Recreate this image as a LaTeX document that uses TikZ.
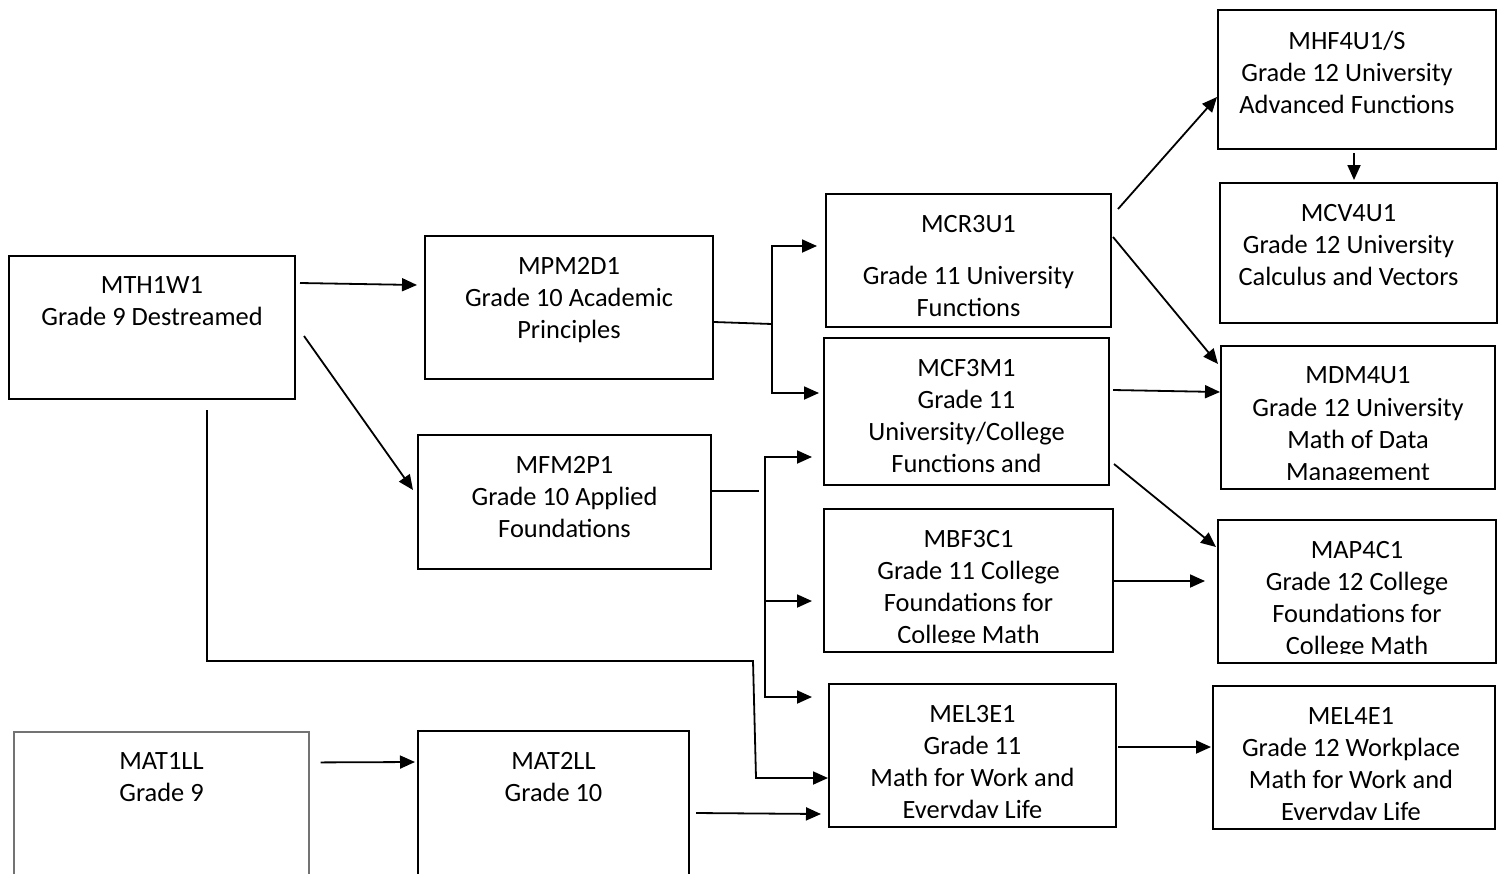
\documentclass[tikz,border=0pt]{standalone}
\usepackage{fontspec}
\setmainfont{Carlito}
\usetikzlibrary{arrows.meta}

\tikzset{
  box/.style={draw, line width=1pt, inner sep=0pt},
  thinbox/.style={draw=black!55, line width=0.6pt, inner sep=0pt},
  txt/.style={draw=none, minimum width=0pt, minimum height=0pt,
    font=\fontsize{13.2}{16}\selectfont, align=center, inner sep=0pt, anchor=north},
  wire/.style={line width=0.9pt},
  arr/.style={wire, -{Triangle[length=7.5pt,width=6.5pt]}},
}

% \course[text x-offset]{box style}{name}{x1}{y1}{x2}{y2}{text}
% The text is clipped to the inside of the box, a little above its bottom edge.
\newcommand\course[8][0]{%
  \pgfmathsetmacro\cx{(#4+#6)/2}%
  \pgfmathsetmacro\cy{(#5+#7)/2}%
  \pgfmathsetmacro\bw{(#6-#4)*0.5}%
  \pgfmathsetmacro\bh{(#7-#5)*0.5}%
  \node[#2, minimum width=\bw pt, minimum height=\bh pt, path picture={
      \clip ([shift={(0,-1)}]path picture bounding box.north west)
        rectangle ([shift={(0,-10)}]path picture bounding box.south east);
      \node[txt] (#3-text) at ([shift={(#1,20)}]path picture bounding box.north) {#8};
    }] (#3) at (\cx,\cy) {};}

\begin{document}
\begin{tikzpicture}[x=0.5pt,y=-0.5pt]
\useasboundingbox (0,0) rectangle (1502,873);
\clip (0,0) rectangle (1502,873);

% Grade 9 and 10
\course{box}{mth}{9}{256}{295}{399}{MTH1W1\\Grade 9 Destreamed}
\course{box}{mpm}{425}{236}{713}{379}{MPM2D1\\Grade 10 Academic\\Principles}
\course{box}{mfm}{418}{435}{711}{569}{MFM2P1\\Grade 10 Applied\\Foundations}
\course{thinbox}{mat1}{14}{732}{309}{920}{MAT1LL\\Grade 9}
\course{box}{mat2}{418}{731}{689}{920}{MAT2LL\\Grade 10}

% Grade 11
\course{box}{mcr}{826}{194}{1111}{327}{MCR3U1\\[10pt]Grade 11 University\\Functions}
\course{box}{mcf}{824}{338}{1109}{485}{MCF3M1\\Grade 11\\University/College\\Functions and}
\course{box}{mbf}{824}{509}{1113}{652}{MBF3C1\\Grade 11 College\\Foundations for\\College Math}
\course{box}{mel3}{829}{684}{1116}{827}{MEL3E1\\Grade 11\\Math for Work and\\Everyday Life}

% Grade 12
\course[-10]{box}{mhf}{1218}{10}{1496}{149}{MHF4U1/S\\Grade 12 University\\Advanced Functions}
\course[-10]{box}{mcv}{1220}{183}{1497}{323}{MCV4U1\\Grade 12 University\\Calculus and Vectors}
\course{box}{mdm}{1221}{346}{1495}{489}{MDM4U1\\Grade 12 University\\Math of Data\\Management}
\course{box}{map}{1218}{520}{1496}{663}{MAP4C1\\Grade 12 College\\Foundations for\\College Math}
\course[-3]{box}{mel4}{1213}{686}{1495}{829}{MEL4E1\\Grade 12 Workplace\\Math for Work and\\Everyday Life}

% from MTH1W1
\draw[arr] ([shift={(4,-44.5)}]mth.east) -- ([shift={(-7,-22.5)}]mpm.west);
\draw[arr] ([shift={(8,8.5)}]mth.east) -- ([shift={(-4,-12)}]mfm.west);
\coordinate (j1) at (753,661);
\coordinate (j2) at (756,778);
\draw[arr] ([shift={(55,10)}]mth.south) |- (j1) -- (j2) -- (mel3.west |- j2);

% from MPM2D1
\coordinate (b1) at (772,324);
\draw[wire] ([shift={(0,14.5)}]mpm.east) -- (b1);
\draw[arr] (b1) |- ([shift={(-8,-14.5)}]mcr.west);
\draw[arr] (b1) |- ([shift={(-4,-18.5)}]mcf.west);

% from MFM2P1
\coordinate (b2) at (765,491);
\draw[wire] ([shift={(0,-11)}]mfm.east) -- ([shift={(-6,0)}]b2);
\draw[arr] (b2) |- ([shift={(-11,45.5)}]mcf.west);
\draw[arr] (b2) |- ([shift={(-11,20.5)}]mbf.west);
\draw[arr] (b2) |- ([shift={(-16,-58.5)}]mel3.west);

% locally developed courses
\draw[arr] ([shift={(11,31)}]mat1.north east) -- ([shift={(-2,32)}]mat2.north west);
\draw[arr] ([shift={(6,83)}]mat2.north east) -- ([shift={(-7,58.5)}]mel3.west);

% Grade 11 to Grade 12
\draw[arr] ([shift={(6,-51.5)}]mcr.east) -- ([shift={(0,17.5)}]mhf.west);
\draw[arr] ([shift={(1,-23.5)}]mcr.east) -- ([shift={(-2,-53.5)}]mdm.west);
\draw[arr] ([shift={(-3,3)}]mhf.south) -- ([shift={(-4.5,-2)}]mcv.north);
\draw[arr] ([shift={(3,-21.5)}]mcf.east) -- ([shift={(0,-25.5)}]mdm.west);
\draw[arr] ([shift={(4,52.5)}]mcf.east) -- ([shift={(-1,-44.5)}]map.west);
\draw[arr] ([shift={(0,0.5)}]mbf.east) -- ([shift={(-12,-10.5)}]map.west);
\draw[arr] ([shift={(1,-8.5)}]mel3.east) -- ([shift={(-1,-10.5)}]mel4.west);
\end{tikzpicture}
\end{document}
